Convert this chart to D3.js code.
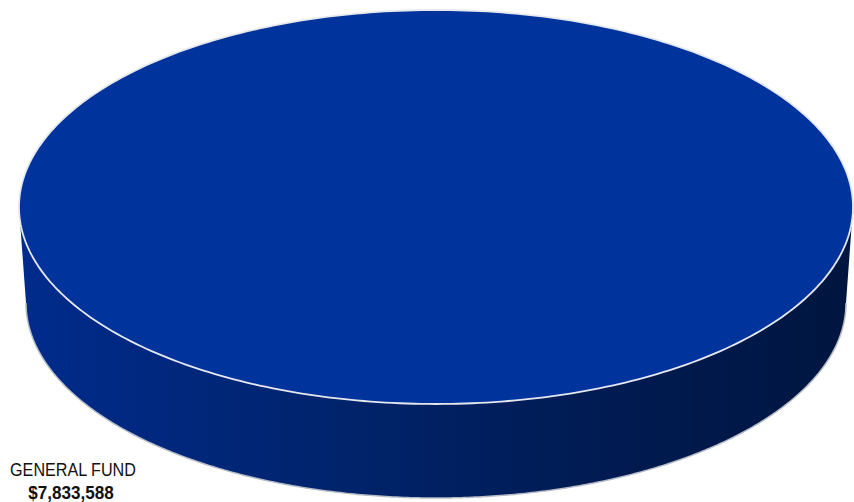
<!DOCTYPE html>
<html>
<head>
<meta charset="utf-8">
<script src="https://cdn.jsdelivr.net/npm/d3@7"></script>
<style>
  html, body { margin: 0; padding: 0; background: #fff; }
  svg { display: block; }
  .lbl { font-family: "Liberation Sans", Arial, sans-serif; fill: #111; }
</style>
</head>
<body>
<svg id="chart" width="854" height="502"></svg>
<script>
// Fund breakdown
const categories = ["GENERAL FUND"];
const values = [7833588];
const valueLabels = ["$7,833,588"];

const W = 854, H = 502;
const svg = d3.select("#chart");

// 3D pie geometry: top ellipse plus a slightly narrower base ellipse
const cx = 436, cy = 207, rx = 417, ry = 197;
const depth = 96, baseRx = 410, baseRy = 195;

const pie = d3.pie().sort(null).value(d => d.value);
const arcs = pie(categories.map((c, i) => ({ name: c, value: values[i], label: valueLabels[i] })));

const topPt = a => [cx + rx * Math.sin(a), cy - ry * Math.cos(a)];
const basePt = a => [cx + baseRx * Math.sin(a), cy + depth - baseRy * Math.cos(a)];

const defs = svg.append("defs");
const grad = defs.append("linearGradient").attr("id", "sideGrad")
  .attr("x1", "0%").attr("x2", "100%").attr("y1", "0%").attr("y2", "0%");
[["0%", "#002b8c"], ["35%", "#00246e"], ["70%", "#001b52"], ["100%", "#001640"]]
  .forEach(([o, c]) => grad.append("stop").attr("offset", o).attr("stop-color", c));

const line = d3.line();

arcs.forEach(s => {
  const n = 360;
  // Visible side wall spans the front half (angles pi/2 .. 3pi/2 in pie terms)
  const a0 = Math.max(s.startAngle, Math.PI / 2);
  const a1 = Math.min(s.endAngle, 3 * Math.PI / 2);
  if (a1 > a0) {
    const topSeg = d3.range(n + 1).map(i => topPt(a0 + (a1 - a0) * i / n));
    const baseSeg = d3.range(n + 1).map(i => basePt(a1 - (a1 - a0) * i / n));
    svg.append("path")
      .attr("d", line(topSeg.concat(baseSeg)) + "Z")
      .attr("fill", "url(#sideGrad)");
    svg.append("path")
      .attr("d", line(baseSeg))
      .attr("fill", "none")
      .attr("stroke", "#b8bcc6")
      .attr("stroke-width", 1.5);
  }
  // Top face
  const topPts = d3.range(n + 1).map(i => topPt(s.startAngle + (s.endAngle - s.startAngle) * i / n));
  svg.append("path")
    .attr("d", line(topPts) + "Z")
    .attr("fill", "#00339c")
    .attr("stroke", "#e6e8ee")
    .attr("stroke-width", 1.8);
});

// Slice label, horizontally condensed
const g = svg.append("g").attr("class", "lbl");
g.append("text").attr("transform", "translate(73,476) scale(0.85,1)").attr("text-anchor", "middle")
  .attr("font-size", 19).text(arcs[0].data.name);
g.append("text").attr("transform", "translate(71,499) scale(0.95,1)").attr("text-anchor", "middle")
  .attr("font-size", 18).attr("font-weight", "bold").text(arcs[0].data.label);
</script>
</body>
</html>
